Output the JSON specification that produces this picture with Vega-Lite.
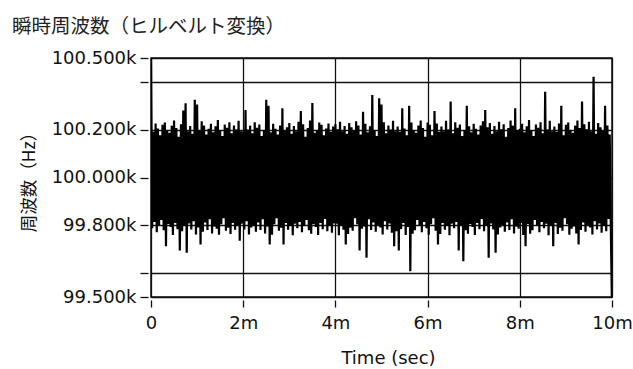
{
"$schema": "https://vega.github.io/schema/vega-lite/v6.json",
"width": 461, "height": 239,
"autosize": {"type": "none"},
"padding": {"left": 151, "top": 58, "right": 21, "bottom": 72},
"background": "white",
"config": {"view": {"stroke": "#111", "strokeWidth": 1.5}},
"title": {"text": "瞬時周波数（ヒルベルト変換）", "anchor": "start", "frame": "group", "dx": -139, "offset": 12, "font": "Noto Sans CJK JP", "fontSize": 19.5, "fontWeight": "normal", "color": "#222"},
"data": {"values": [
{"t":0,"f":100520},{"t":0.025,"f":99788},{"t":0.05,"f":100191},{"t":0.075,"f":99814},{"t":0.1,"f":100226},{"t":0.125,"f":99771},{"t":0.15,"f":100205},{"t":0.175,"f":99799},{"t":0.2,"f":100177},{"t":0.225,"f":99822},
{"t":0.25,"f":100221},{"t":0.275,"f":99779},{"t":0.3,"f":100230},{"t":0.325,"f":99712},{"t":0.35,"f":100198},{"t":0.375,"f":99805},{"t":0.4,"f":100187},{"t":0.425,"f":99793},{"t":0.45,"f":100217},{"t":0.475,"f":99759},
{"t":0.5,"f":100238},{"t":0.525,"f":99810},{"t":0.55,"f":100207},{"t":0.575,"f":99784},{"t":0.6,"f":100170},{"t":0.625,"f":99695},{"t":0.65,"f":100223},{"t":0.675,"f":99775},{"t":0.7,"f":100280},{"t":0.725,"f":99797},
{"t":0.75,"f":100311},{"t":0.775,"f":99685},{"t":0.8,"f":100193},{"t":0.825,"f":99808},{"t":0.85,"f":100215},{"t":0.875,"f":99782},{"t":0.9,"f":100183},{"t":0.925,"f":99817},{"t":0.95,"f":100325},{"t":0.975,"f":99762},
{"t":1.0,"f":100305},{"t":1.025,"f":99791},{"t":1.05,"f":100195},{"t":1.075,"f":99720},{"t":1.1,"f":100235},{"t":1.125,"f":99773},{"t":1.15,"f":100218},{"t":1.175,"f":99812},{"t":1.2,"f":100180},{"t":1.225,"f":99780},
{"t":1.25,"f":100204},{"t":1.275,"f":99825},{"t":1.3,"f":100225},{"t":1.325,"f":99766},{"t":1.35,"f":100189},{"t":1.375,"f":99795},{"t":1.4,"f":100214},{"t":1.425,"f":99786},{"t":1.45,"f":100241},{"t":1.475,"f":99760},
{"t":1.5,"f":100199},{"t":1.525,"f":99804},{"t":1.55,"f":100174},{"t":1.575,"f":99830},{"t":1.6,"f":100222},{"t":1.625,"f":99777},{"t":1.65,"f":100208},{"t":1.675,"f":99790},{"t":1.7,"f":100231},{"t":1.725,"f":99764},
{"t":1.75,"f":100185},{"t":1.775,"f":99810},{"t":1.8,"f":100217},{"t":1.825,"f":99781},{"t":1.85,"f":100201},{"t":1.875,"f":99798},{"t":1.9,"f":100237},{"t":1.925,"f":99735},{"t":1.95,"f":100193},{"t":1.975,"f":99807},
{"t":2.0,"f":100193},{"t":2.025,"f":99782},{"t":2.05,"f":100282},{"t":2.075,"f":99817},{"t":2.1,"f":100201},{"t":2.125,"f":99762},{"t":2.15,"f":100217},{"t":2.175,"f":99791},{"t":2.2,"f":100185},{"t":2.225,"f":99801},
{"t":2.25,"f":100231},{"t":2.275,"f":99773},{"t":2.3,"f":100208},{"t":2.325,"f":99812},{"t":2.35,"f":100222},{"t":2.375,"f":99780},{"t":2.4,"f":100174},{"t":2.425,"f":99825},{"t":2.45,"f":100199},{"t":2.475,"f":99766},
{"t":2.5,"f":100325},{"t":2.525,"f":99795},{"t":2.55,"f":100300},{"t":2.575,"f":99720},{"t":2.6,"f":100189},{"t":2.625,"f":99760},{"t":2.65,"f":100225},{"t":2.675,"f":99804},{"t":2.7,"f":100204},{"t":2.725,"f":99830},
{"t":2.75,"f":100180},{"t":2.775,"f":99777},{"t":2.8,"f":100218},{"t":2.825,"f":99790},{"t":2.85,"f":100290},{"t":2.875,"f":99720},{"t":2.9,"f":100195},{"t":2.925,"f":99810},{"t":2.95,"f":100210},{"t":2.975,"f":99781},
{"t":3.0,"f":100228},{"t":3.025,"f":99798},{"t":3.05,"f":100183},{"t":3.075,"f":99758},{"t":3.1,"f":100215},{"t":3.125,"f":99807},{"t":3.15,"f":100193},{"t":3.175,"f":99788},{"t":3.2,"f":100233},{"t":3.225,"f":99814},
{"t":3.25,"f":100278},{"t":3.275,"f":99771},{"t":3.3,"f":100223},{"t":3.325,"f":99799},{"t":3.35,"f":100170},{"t":3.375,"f":99822},{"t":3.4,"f":100207},{"t":3.425,"f":99779},{"t":3.45,"f":100238},{"t":3.475,"f":99765},
{"t":3.5,"f":100312},{"t":3.525,"f":99805},{"t":3.55,"f":100187},{"t":3.575,"f":99793},{"t":3.6,"f":100198},{"t":3.625,"f":99759},{"t":3.65,"f":100230},{"t":3.675,"f":99810},{"t":3.7,"f":100221},{"t":3.725,"f":99784},
{"t":3.75,"f":100177},{"t":3.775,"f":99826},{"t":3.8,"f":100205},{"t":3.825,"f":99775},{"t":3.85,"f":100226},{"t":3.875,"f":99797},{"t":3.9,"f":100191},{"t":3.925,"f":99769},{"t":3.95,"f":100213},{"t":3.975,"f":99808},
{"t":4.0,"f":100223},{"t":4.025,"f":99807},{"t":4.05,"f":100202},{"t":4.075,"f":99758},{"t":4.1,"f":100233},{"t":4.125,"f":99798},{"t":4.15,"f":100193},{"t":4.175,"f":99781},{"t":4.2,"f":100215},{"t":4.225,"f":99720},
{"t":4.25,"f":100183},{"t":4.275,"f":99764},{"t":4.3,"f":100228},{"t":4.325,"f":99790},{"t":4.35,"f":100210},{"t":4.375,"f":99777},{"t":4.4,"f":100195},{"t":4.425,"f":99830},{"t":4.45,"f":100235},{"t":4.475,"f":99804},
{"t":4.5,"f":100218},{"t":4.525,"f":99695},{"t":4.55,"f":100180},{"t":4.575,"f":99786},{"t":4.6,"f":100275},{"t":4.625,"f":99795},{"t":4.65,"f":100225},{"t":4.675,"f":99664},{"t":4.7,"f":100189},{"t":4.725,"f":99825},
{"t":4.75,"f":100214},{"t":4.775,"f":99780},{"t":4.8,"f":100345},{"t":4.825,"f":99812},{"t":4.85,"f":100199},{"t":4.875,"f":99773},{"t":4.9,"f":100174},{"t":4.925,"f":99801},{"t":4.95,"f":100332},{"t":4.975,"f":99791},
{"t":5.0,"f":100305},{"t":5.025,"f":99762},{"t":5.05,"f":100231},{"t":5.075,"f":99817},{"t":5.1,"f":100185},{"t":5.125,"f":99782},{"t":5.15,"f":100217},{"t":5.175,"f":99808},{"t":5.2,"f":100201},{"t":5.225,"f":99769},
{"t":5.25,"f":100237},{"t":5.275,"f":99712},{"t":5.3,"f":100193},{"t":5.325,"f":99775},{"t":5.35,"f":100213},{"t":5.375,"f":99695},{"t":5.4,"f":100191},{"t":5.425,"f":99784},{"t":5.45,"f":100290},{"t":5.475,"f":99810},
{"t":5.5,"f":100205},{"t":5.525,"f":99759},{"t":5.55,"f":100177},{"t":5.575,"f":99793},{"t":5.6,"f":100300},{"t":5.625,"f":99608},{"t":5.65,"f":100230},{"t":5.675,"f":99765},{"t":5.7,"f":100198},{"t":5.725,"f":99779},
{"t":5.75,"f":100187},{"t":5.775,"f":99822},{"t":5.8,"f":100217},{"t":5.825,"f":99799},{"t":5.85,"f":100238},{"t":5.875,"f":99771},{"t":5.9,"f":100207},{"t":5.925,"f":99814},{"t":5.95,"f":100170},{"t":5.975,"f":99788},
{"t":6.0,"f":100230},{"t":6.025,"f":99760},{"t":6.05,"f":100221},{"t":6.075,"f":99804},{"t":6.1,"f":100177},{"t":6.125,"f":99830},{"t":6.15,"f":100278},{"t":6.175,"f":99777},{"t":6.2,"f":100226},{"t":6.225,"f":99720},
{"t":6.25,"f":100191},{"t":6.275,"f":99764},{"t":6.3,"f":100213},{"t":6.325,"f":99810},{"t":6.35,"f":100193},{"t":6.375,"f":99781},{"t":6.4,"f":100237},{"t":6.425,"f":99798},{"t":6.45,"f":100201},{"t":6.475,"f":99758},
{"t":6.5,"f":100318},{"t":6.525,"f":99807},{"t":6.55,"f":100185},{"t":6.575,"f":99788},{"t":6.6,"f":100231},{"t":6.625,"f":99814},{"t":6.65,"f":100208},{"t":6.675,"f":99695},{"t":6.7,"f":100222},{"t":6.725,"f":99799},
{"t":6.75,"f":100174},{"t":6.775,"f":99650},{"t":6.8,"f":100199},{"t":6.825,"f":99779},{"t":6.85,"f":100300},{"t":6.875,"f":99765},{"t":6.9,"f":100214},{"t":6.925,"f":99805},{"t":6.95,"f":100189},{"t":6.975,"f":99793},
{"t":7.0,"f":100225},{"t":7.025,"f":99759},{"t":7.05,"f":100204},{"t":7.075,"f":99810},{"t":7.1,"f":100180},{"t":7.125,"f":99784},{"t":7.15,"f":100218},{"t":7.175,"f":99826},{"t":7.2,"f":100235},{"t":7.225,"f":99775},
{"t":7.25,"f":100282},{"t":7.275,"f":99797},{"t":7.3,"f":100210},{"t":7.325,"f":99664},{"t":7.35,"f":100228},{"t":7.375,"f":99808},{"t":7.4,"f":100183},{"t":7.425,"f":99782},{"t":7.45,"f":100215},{"t":7.475,"f":99685},
{"t":7.5,"f":100193},{"t":7.525,"f":99762},{"t":7.55,"f":100233},{"t":7.575,"f":99791},{"t":7.6,"f":100202},{"t":7.625,"f":99801},{"t":7.65,"f":100223},{"t":7.675,"f":99773},{"t":7.7,"f":100170},{"t":7.725,"f":99812},
{"t":7.75,"f":100207},{"t":7.775,"f":99780},{"t":7.8,"f":100238},{"t":7.825,"f":99825},{"t":7.85,"f":100217},{"t":7.875,"f":99766},{"t":7.9,"f":100290},{"t":7.925,"f":99795},{"t":7.95,"f":100198},{"t":7.975,"f":99786},
{"t":8.0,"f":100204},{"t":8.025,"f":99810},{"t":8.05,"f":100225},{"t":8.075,"f":99759},{"t":8.1,"f":100189},{"t":8.125,"f":99712},{"t":8.15,"f":100214},{"t":8.175,"f":99805},{"t":8.2,"f":100241},{"t":8.225,"f":99765},
{"t":8.25,"f":100199},{"t":8.275,"f":99779},{"t":8.3,"f":100174},{"t":8.325,"f":99822},{"t":8.35,"f":100222},{"t":8.375,"f":99799},{"t":8.4,"f":100208},{"t":8.425,"f":99771},{"t":8.45,"f":100231},{"t":8.475,"f":99814},
{"t":8.5,"f":100185},{"t":8.525,"f":99788},{"t":8.55,"f":100359},{"t":8.575,"f":99807},{"t":8.6,"f":100201},{"t":8.625,"f":99758},{"t":8.65,"f":100237},{"t":8.675,"f":99798},{"t":8.7,"f":100193},{"t":8.725,"f":99712},
{"t":8.75,"f":100213},{"t":8.775,"f":99810},{"t":8.8,"f":100191},{"t":8.825,"f":99764},{"t":8.85,"f":100226},{"t":8.875,"f":99790},{"t":8.9,"f":100300},{"t":8.925,"f":99777},{"t":8.95,"f":100177},{"t":8.975,"f":99830},
{"t":9.0,"f":100221},{"t":9.025,"f":99804},{"t":9.05,"f":100230},{"t":9.075,"f":99760},{"t":9.1,"f":100198},{"t":9.125,"f":99786},{"t":9.15,"f":100187},{"t":9.175,"f":99795},{"t":9.2,"f":100217},{"t":9.225,"f":99766},
{"t":9.25,"f":100238},{"t":9.275,"f":99720},{"t":9.3,"f":100207},{"t":9.325,"f":99780},{"t":9.35,"f":100318},{"t":9.375,"f":99812},{"t":9.4,"f":100223},{"t":9.425,"f":99773},{"t":9.45,"f":100202},{"t":9.475,"f":99801},
{"t":9.5,"f":100233},{"t":9.525,"f":99791},{"t":9.55,"f":100193},{"t":9.575,"f":99762},{"t":9.6,"f":100422},{"t":9.625,"f":99817},{"t":9.65,"f":100183},{"t":9.675,"f":99782},{"t":9.7,"f":100228},{"t":9.725,"f":99808},
{"t":9.75,"f":100210},{"t":9.775,"f":99769},{"t":9.8,"f":100195},{"t":9.825,"f":99797},{"t":9.85,"f":100300},{"t":9.875,"f":99775},{"t":9.9,"f":100218},{"t":9.925,"f":99826},{"t":9.95,"f":100180},{"t":9.975,"f":99784},
{"t":10.0,"f":99450}
]},
"mark": {"type": "line", "color": "black", "strokeWidth": 2.2, "clip": true},
"encoding": {
"x": {"field": "t", "type": "quantitative",
  "scale": {"domain": [0, 10], "nice": false, "zero": false},
  "axis": {"values": [0, 2, 4, 6, 8, 10], "labelExpr": "datum.value == 0 ? '0' : datum.value + 'm'",
    "title": "Time (sec)", "titleX": 237, "grid": true, "gridColor": "#111", "gridWidth": 1.3, "gridOpacity": 1,
    "domain": false, "ticks": true, "tickColor": "#111", "tickSize": 7, "tickWidth": 1.3, "offset": 3,
    "labelFont": "DejaVu Sans", "labelFontSize": 18, "labelColor": "#111", "labelPadding": 7, "labelFlush": false,
    "titleFont": "DejaVu Sans", "titleFontSize": 18, "titleFontWeight": "normal", "titleColor": "#111", "titlePadding": 17}},
"y": {"field": "f", "type": "quantitative",
  "scale": {"domain": [99500, 100500], "nice": false, "zero": false},
  "axis": {"values": [99500, 99600, 99800, 100000, 100200, 100400, 100500],
    "labelExpr": "(datum.value == 99600 || datum.value == 100400) ? '' : format(datum.value / 1000, '.3f') + 'k'",
    "title": "周波数（Hz）", "grid": true, "gridColor": "#111", "gridWidth": 1.3, "gridOpacity": 1,
    "domain": false, "ticks": true, "tickColor": "#111", "tickSize": 8, "tickWidth": 1.3, "offset": 3,
    "labelFont": "DejaVu Sans", "labelFontSize": 18, "labelColor": "#111", "labelPadding": 4, "labelFlush": false,
    "titleFont": "Noto Sans CJK JP", "titleFontSize": 17.5, "titleFontWeight": "normal", "titleColor": "#111", "titlePadding": 13}}
}
}
